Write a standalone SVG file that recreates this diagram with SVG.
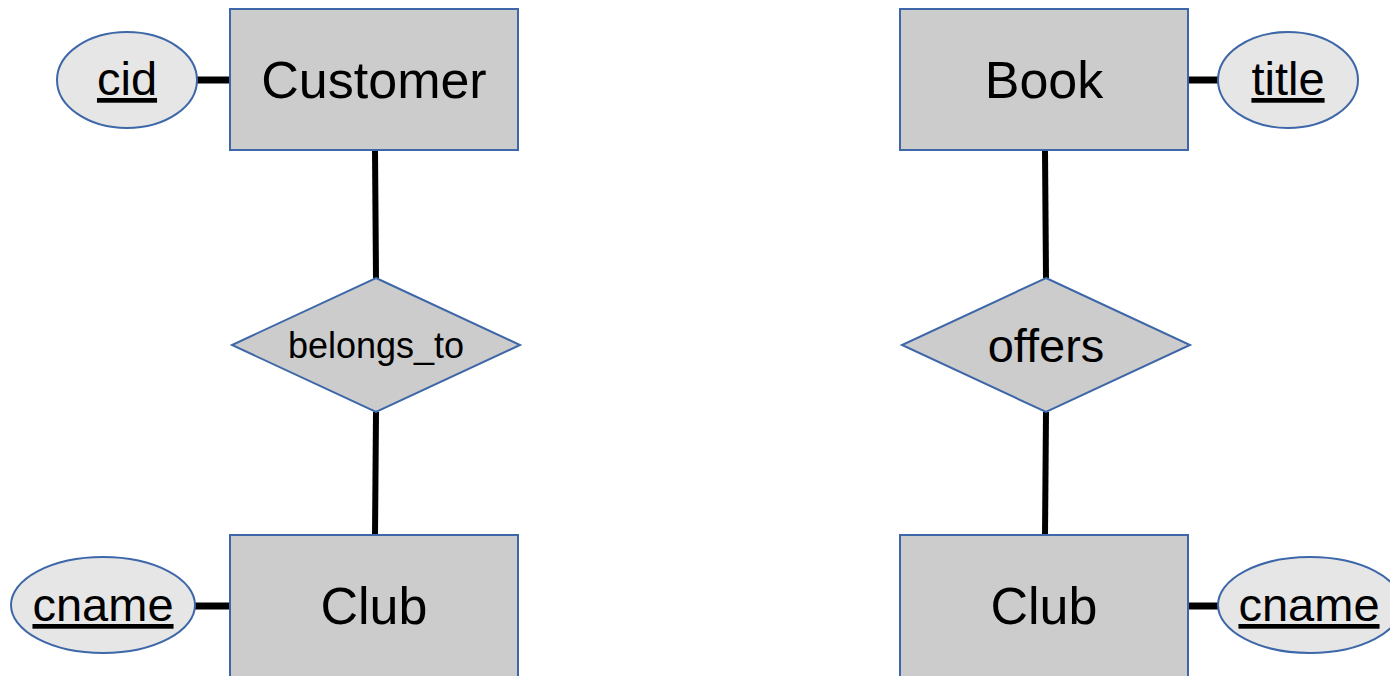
<svg xmlns="http://www.w3.org/2000/svg" width="1390" height="676" viewBox="0 0 1390 676">
<style>
.ent{fill:#cccccc;stroke:#3d67a8;stroke-width:2}
.rel{fill:#cccccc;stroke:#3d67a8;stroke-width:2}
.att{fill:#e6e6e6;stroke:#3d67a8;stroke-width:2}
.con{stroke:#000;stroke-width:6;fill:none}
.conh{stroke:#000;stroke-width:7;fill:none}
text{font-family:"Liberation Sans",Arial,sans-serif;fill:#000;text-anchor:middle}
.et{font-size:52px}
.at{font-size:47px;text-decoration:underline;text-decoration-thickness:2px}
.rt{font-size:36px}
.ro{font-size:47px}
</style>
<rect width="1390" height="676" fill="#fff"/>
<g id="connectors">
<line class="conh" x1="197" y1="80" x2="230" y2="80"/>
<line class="con" x1="375" y1="150" x2="376" y2="278"/>
<line class="con" x1="376" y1="412" x2="375" y2="535"/>
<line class="conh" x1="195" y1="606" x2="230" y2="606"/>
<line class="conh" x1="1188" y1="80" x2="1218" y2="80"/>
<line class="con" x1="1045" y1="150" x2="1046" y2="278"/>
<line class="con" x1="1046" y1="412" x2="1045" y2="535"/>
<line class="conh" x1="1188" y1="606" x2="1218" y2="606"/>
</g>
<g id="customer">
<rect class="ent" x="230" y="9" width="288" height="141"/>
<text class="et" x="374" y="98">Customer</text>
</g>
<g id="cid">
<ellipse class="att" cx="127" cy="80" rx="70" ry="48"/>
<text class="at" x="127" y="95">cid</text>
</g>
<g id="belongs_to">
<polygon class="rel" points="376,278 520,345 376,412 232,345"/>
<text class="rt" x="376" y="358">belongs_to</text>
</g>
<g id="club1">
<rect class="ent" x="230" y="535" width="288" height="145"/>
<text class="et" x="374" y="624">Club</text>
</g>
<g id="cname1">
<ellipse class="att" cx="103" cy="605" rx="92" ry="48"/>
<text class="at" x="103" y="621">cname</text>
</g>
<g id="book">
<rect class="ent" x="900" y="9" width="288" height="141"/>
<text class="et" x="1044" y="98">Book</text>
</g>
<g id="title">
<ellipse class="att" cx="1288" cy="80" rx="70" ry="48"/>
<text class="at" x="1288" y="95">title</text>
</g>
<g id="offers">
<polygon class="rel" points="1046,278 1190,345 1046,412 902,345"/>
<text class="ro" x="1046" y="362">offers</text>
</g>
<g id="club2">
<rect class="ent" x="900" y="535" width="288" height="145"/>
<text class="et" x="1044" y="624">Club</text>
</g>
<g id="cname2">
<ellipse class="att" cx="1310" cy="605" rx="92" ry="48"/>
<text class="at" x="1309" y="621">cname</text>
</g>
</svg>
